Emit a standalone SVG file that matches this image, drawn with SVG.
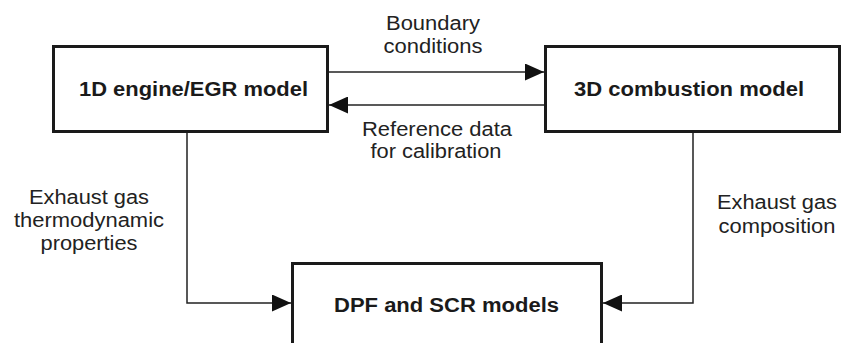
<svg xmlns="http://www.w3.org/2000/svg" width="844" height="343" viewBox="0 0 844 343">
<defs>
<style>
.box{fill:#fff;stroke:#1a1a1a;stroke-width:3}
.ttl{font-family:"Liberation Sans",Arial,sans-serif;font-weight:bold;font-size:19.5px;fill:#1a1a1a;text-anchor:middle}
.lbl{font-family:"Liberation Sans",Arial,sans-serif;font-size:19.5px;fill:#222;text-anchor:middle}
.con{fill:none;stroke:#222;stroke-width:1.5}
</style>
<marker id="ah" viewBox="0 0 19 17" refX="19" refY="8.5" markerWidth="19" markerHeight="17" markerUnits="userSpaceOnUse" orient="auto">
<path d="M0,0 L19,8.5 L0,17 Z" fill="#111"/>
</marker>
</defs>
<rect width="844" height="343" fill="#fff"/>
<g id="connectors">
<path class="con" d="M328,72 H544" marker-end="url(#ah)"/>
<path class="con" d="M545,105 H329" marker-end="url(#ah)"/>
<path class="con" d="M187,132 V303 H291" marker-end="url(#ah)"/>
<path class="con" d="M693,132 V303 H603" marker-end="url(#ah)"/>
</g>
<g id="labels">
<text class="lbl" x="433" y="30" textLength="94" lengthAdjust="spacingAndGlyphs">Boundary</text>
<text class="lbl" x="433" y="53" textLength="99" lengthAdjust="spacingAndGlyphs">conditions</text>
<text class="lbl" x="437" y="136" textLength="150" lengthAdjust="spacingAndGlyphs">Reference data</text>
<text class="lbl" x="436" y="158" textLength="131" lengthAdjust="spacingAndGlyphs">for calibration</text>
<text class="lbl" x="89" y="204" textLength="120" lengthAdjust="spacingAndGlyphs">Exhaust gas</text>
<text class="lbl" x="89" y="227" textLength="150" lengthAdjust="spacingAndGlyphs">thermodynamic</text>
<text class="lbl" x="89" y="250" textLength="97" lengthAdjust="spacingAndGlyphs">properties</text>
<text class="lbl" x="777" y="209" textLength="120" lengthAdjust="spacingAndGlyphs">Exhaust gas</text>
<text class="lbl" x="777" y="233" textLength="117" lengthAdjust="spacingAndGlyphs">composition</text>
</g>
<g id="node-1d">
<rect class="box" x="53.5" y="46.5" width="274" height="85"/>
<text class="ttl" x="193.5" y="96" textLength="229" lengthAdjust="spacingAndGlyphs">1D engine/EGR model</text>
</g>
<g id="node-3d">
<rect class="box" x="545.5" y="46.5" width="294" height="85"/>
<text class="ttl" x="689" y="96" textLength="230" lengthAdjust="spacingAndGlyphs">3D combustion model</text>
</g>
<g id="node-dpf">
<rect class="box" x="292.5" y="263.5" width="309" height="100"/>
<text class="ttl" x="446.5" y="312" textLength="225" lengthAdjust="spacingAndGlyphs">DPF and SCR models</text>
</g>
</svg>
